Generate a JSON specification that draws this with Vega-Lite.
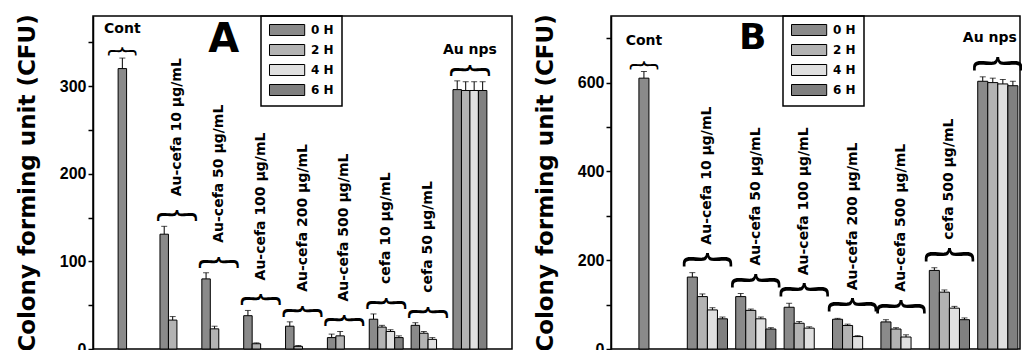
{
  "$schema": "https://vega.github.io/schema/vega-lite/v6.json",
  "background": "white",
  "padding": {"left": 15, "top": 12, "right": 0, "bottom": 0},
  "spacing": 20,
  "datasets": {
    "barsA": [
      {"group": "Cont", "hour": "0 H", "value": 320, "upper": 332},
      {"group": "Au-cefa 10 µg/mL", "hour": "0 H", "value": 131, "upper": 140},
      {"group": "Au-cefa 10 µg/mL", "hour": "2 H", "value": 33, "upper": 37},
      {"group": "Au-cefa 50 µg/mL", "hour": "0 H", "value": 80, "upper": 87},
      {"group": "Au-cefa 50 µg/mL", "hour": "2 H", "value": 23, "upper": 26},
      {"group": "Au-cefa 100 µg/mL", "hour": "0 H", "value": 38, "upper": 44},
      {"group": "Au-cefa 100 µg/mL", "hour": "2 H", "value": 6, "upper": 7},
      {"group": "Au-cefa 200 µg/mL", "hour": "0 H", "value": 26, "upper": 31},
      {"group": "Au-cefa 200 µg/mL", "hour": "2 H", "value": 3, "upper": 4},
      {"group": "Au-cefa 500 µg/mL", "hour": "0 H", "value": 13, "upper": 17},
      {"group": "Au-cefa 500 µg/mL", "hour": "2 H", "value": 15, "upper": 20},
      {"group": "cefa 10 µg/mL", "hour": "0 H", "value": 34, "upper": 40},
      {"group": "cefa 10 µg/mL", "hour": "2 H", "value": 25, "upper": 27},
      {"group": "cefa 10 µg/mL", "hour": "4 H", "value": 20, "upper": 22},
      {"group": "cefa 10 µg/mL", "hour": "6 H", "value": 13, "upper": 15},
      {"group": "cefa 50 µg/mL", "hour": "0 H", "value": 27, "upper": 30},
      {"group": "cefa 50 µg/mL", "hour": "2 H", "value": 18, "upper": 20},
      {"group": "cefa 50 µg/mL", "hour": "4 H", "value": 11, "upper": 13},
      {"group": "Au nps", "hour": "0 H", "value": 296, "upper": 306},
      {"group": "Au nps", "hour": "2 H", "value": 295, "upper": 305},
      {"group": "Au nps", "hour": "4 H", "value": 295, "upper": 305},
      {"group": "Au nps", "hour": "6 H", "value": 295, "upper": 305}
    ],
    "barsB": [
      {"group": "Cont", "hour": "0 H", "value": 610, "upper": 625},
      {"group": "Au-cefa 10 µg/mL", "hour": "0 H", "value": 162, "upper": 172},
      {"group": "Au-cefa 10 µg/mL", "hour": "2 H", "value": 118, "upper": 124},
      {"group": "Au-cefa 10 µg/mL", "hour": "4 H", "value": 88, "upper": 93},
      {"group": "Au-cefa 10 µg/mL", "hour": "6 H", "value": 68, "upper": 72},
      {"group": "Au-cefa 50 µg/mL", "hour": "0 H", "value": 118, "upper": 125},
      {"group": "Au-cefa 50 µg/mL", "hour": "2 H", "value": 87, "upper": 90},
      {"group": "Au-cefa 50 µg/mL", "hour": "4 H", "value": 68, "upper": 72},
      {"group": "Au-cefa 50 µg/mL", "hour": "6 H", "value": 45, "upper": 48},
      {"group": "Au-cefa 100 µg/mL", "hour": "0 H", "value": 94, "upper": 103},
      {"group": "Au-cefa 100 µg/mL", "hour": "2 H", "value": 58, "upper": 62},
      {"group": "Au-cefa 100 µg/mL", "hour": "4 H", "value": 47, "upper": 50},
      {"group": "Au-cefa 200 µg/mL", "hour": "0 H", "value": 67, "upper": 69},
      {"group": "Au-cefa 200 µg/mL", "hour": "2 H", "value": 53, "upper": 56},
      {"group": "Au-cefa 200 µg/mL", "hour": "4 H", "value": 28, "upper": 30},
      {"group": "Au-cefa 500 µg/mL", "hour": "0 H", "value": 61, "upper": 66},
      {"group": "Au-cefa 500 µg/mL", "hour": "2 H", "value": 45, "upper": 48},
      {"group": "Au-cefa 500 µg/mL", "hour": "4 H", "value": 27, "upper": 32},
      {"group": "cefa 500 µg/mL", "hour": "0 H", "value": 177, "upper": 183},
      {"group": "cefa 500 µg/mL", "hour": "2 H", "value": 128, "upper": 133},
      {"group": "cefa 500 µg/mL", "hour": "4 H", "value": 92, "upper": 96},
      {"group": "cefa 500 µg/mL", "hour": "6 H", "value": 66, "upper": 70},
      {"group": "Au nps", "hour": "0 H", "value": 603, "upper": 613},
      {"group": "Au nps", "hour": "2 H", "value": 600, "upper": 610},
      {"group": "Au nps", "hour": "4 H", "value": 597, "upper": 607},
      {"group": "Au nps", "hour": "6 H", "value": 593, "upper": 603}
    ]
  },
  "config": {
    "view": {"stroke": "black", "strokeWidth": 1.5},
    "axisY": {
      "grid": false,
      "domainColor": "black", "domainWidth": 1.5,
      "tickColor": "black", "tickWidth": 1.5, "tickSize": 5,
      "labelFont": "Liberation Sans", "labelFontWeight": "bold", "labelFontSize": 16, "labelColor": "black", "labelPadding": 2,
      "titleFont": "DejaVu Sans", "titleFontWeight": "bold", "titleFontSize": 23, "titleColor": "black", "titlePadding": 20
    },
    "legend": {
      "title": null,
      "strokeColor": "black", "strokeWidth": 1.5, "padding": 8,
      "symbolType": "M-1,-1H5.4V1H-1Z", "symbolSize": 121,
      "symbolStrokeColor": "black", "symbolStrokeWidth": 1, "symbolOpacity": 1,
      "labelFont": "DejaVu Sans", "labelFontWeight": "bold", "labelFontSize": 12, "labelColor": "black",
      "labelOffset": 30, "rowPadding": 4
    },
    "text": {"font": "DejaVu Sans", "fontWeight": "bold", "color": "black"}
  },
  "resolve": {"scale": {"x": "independent", "y": "independent", "color": "independent", "xOffset": "independent"}, "legend": {"color": "independent"}},
  "hconcat": [
    {
      "width": 419, "height": 333,
      "data": {"name": "barsA"},
      "encoding": {
        "x": {"field": "group", "type": "nominal", "axis": null, "sort": null,
              "scale": {"domain": ["Cont", "Au-cefa 10 µg/mL", "Au-cefa 50 µg/mL", "Au-cefa 100 µg/mL", "Au-cefa 200 µg/mL", "Au-cefa 500 µg/mL", "cefa 10 µg/mL", "cefa 50 µg/mL", "Au nps"], "paddingInner": 0.19, "paddingOuter": 0.6}}
      },
      "layer": [
        {
          "mark": {"type": "rule", "color": "black", "strokeWidth": 1},
          "encoding": {
            "xOffset": {"field": "hour", "type": "nominal", "scale": {"domain": ["0 H", "2 H", "4 H", "6 H"], "paddingInner": 0, "paddingOuter": 0}},
            "y": {"field": "value", "type": "quantitative", "scale": {"domain": [0, 380], "nice": false},
                  "axis": {"title": "Colony forming unit (CFU)", "values": [0, 50, 100, 150, 200, 250, 300, 350], "labelExpr": "datum.value % 100 === 0 ? datum.label : ''"}},
            "y2": {"field": "upper"}
          }
        },
        {
          "mark": {"type": "tick", "color": "black", "size": 6, "thickness": 1},
          "encoding": {
            "xOffset": {"field": "hour", "type": "nominal"},
            "y": {"field": "upper", "type": "quantitative"}
          }
        },
        {
          "mark": {"type": "bar", "stroke": "black", "strokeWidth": 1},
          "encoding": {
            "xOffset": {"field": "hour", "type": "nominal"},
            "y": {"field": "value", "type": "quantitative"},
            "color": {"field": "hour", "type": "nominal",
                      "scale": {"domain": ["0 H", "2 H", "4 H", "6 H"], "range": ["#8a8a8a", "#b3b3b3", "#e0e0e0", "#808080"]},
                      "legend": {"orient": "none", "legendX": 168, "legendY": 0}}
          }
        },
        {
          "transform": [{"filter": "datum.group !== 'Cont'"}, {"aggregate": [{"op": "max", "field": "upper", "as": "top"}], "groupby": ["group"]}],
          "mark": {"type": "text", "text": "︷", "font": "Noto Sans CJK SC", "fontWeight": "normal", "fontSize": 42, "baseline": "bottom", "dy": 0},
          "encoding": {"y": {"field": "top", "type": "quantitative"}}
        },
        {
          "transform": [{"filter": "datum.group === 'Cont'"}],
          "mark": {"type": "text", "text": "︷", "font": "Noto Sans CJK SC", "fontWeight": "normal", "fontSize": 30, "baseline": "bottom", "dy": 0},
          "encoding": {"xOffset": {"field": "hour", "type": "nominal"}, "y": {"field": "upper", "type": "quantitative"}}
        },
        {
          "transform": [{"filter": "datum.group !== 'Cont' && datum.group !== 'Au nps'"}, {"aggregate": [{"op": "max", "field": "upper", "as": "top"}], "groupby": ["group"]}],
          "mark": {"type": "text", "angle": 270, "align": "left", "baseline": "middle", "fontSize": 14, "dx": 30},
          "encoding": {"y": {"field": "top", "type": "quantitative"}, "text": {"field": "group"}}
        },
        {
          "transform": [{"filter": "datum.group === 'Cont'"}],
          "mark": {"type": "text", "baseline": "bottom", "fontSize": 14, "dy": -22},
          "encoding": {"xOffset": {"field": "hour", "type": "nominal"}, "y": {"field": "upper", "type": "quantitative"}, "text": {"field": "group"}}
        },
        {
          "transform": [{"filter": "datum.group === 'Au nps'"}, {"aggregate": [{"op": "max", "field": "upper", "as": "top"}], "groupby": ["group"]}],
          "mark": {"type": "text", "baseline": "bottom", "fontSize": 14, "dy": -24},
          "encoding": {"y": {"field": "top", "type": "quantitative"}, "text": {"field": "group"}}
        },
        {
          "data": {"values": [{"letter": "A"}]},
          "mark": {"type": "text", "fontSize": 40, "baseline": "alphabetic", "dx": 5},
          "encoding": {"x": {"datum": "Au-cefa 50 µg/mL"}, "y": {"datum": 339}, "text": {"field": "letter"}}
        }
      ]
    },
    {
      "width": 409, "height": 333,
      "data": {"name": "barsB"},
      "encoding": {
        "x": {"field": "group", "type": "nominal", "axis": null, "sort": null,
              "scale": {"domain": ["Cont", "Au-cefa 10 µg/mL", "Au-cefa 50 µg/mL", "Au-cefa 100 µg/mL", "Au-cefa 200 µg/mL", "Au-cefa 500 µg/mL", "cefa 500 µg/mL", "Au nps"], "paddingInner": 0.17, "paddingOuter": 0.31, "align": 0.93}}
      },
      "layer": [
        {
          "mark": {"type": "rule", "color": "black", "strokeWidth": 1},
          "encoding": {
            "xOffset": {"field": "hour", "type": "nominal", "scale": {"domain": ["0 H", "2 H", "4 H", "6 H"], "paddingInner": 0, "paddingOuter": 0}},
            "y": {"field": "value", "type": "quantitative", "scale": {"domain": [0, 750], "nice": false},
                  "axis": {"title": "Colony forming unit (CFU)", "values": [0, 100, 200, 300, 400, 500, 600, 700], "labelExpr": "datum.value % 200 === 0 ? datum.label : ''"}},
            "y2": {"field": "upper"}
          }
        },
        {
          "mark": {"type": "tick", "color": "black", "size": 6, "thickness": 1},
          "encoding": {
            "xOffset": {"field": "hour", "type": "nominal"},
            "y": {"field": "upper", "type": "quantitative"}
          }
        },
        {
          "mark": {"type": "bar", "stroke": "black", "strokeWidth": 1},
          "encoding": {
            "xOffset": {"field": "hour", "type": "nominal"},
            "y": {"field": "value", "type": "quantitative"},
            "color": {"field": "hour", "type": "nominal",
                      "scale": {"domain": ["0 H", "2 H", "4 H", "6 H"], "range": ["#8a8a8a", "#b3b3b3", "#e0e0e0", "#808080"]},
                      "legend": {"orient": "none", "legendX": 172, "legendY": 0}}
          }
        },
        {
          "transform": [{"filter": "datum.group !== 'Cont'"}, {"aggregate": [{"op": "max", "field": "upper", "as": "top"}], "groupby": ["group"]}],
          "mark": {"type": "text", "text": "︷", "font": "Noto Sans CJK SC", "fontWeight": "normal", "fontSize": 52, "baseline": "bottom", "dy": 0},
          "encoding": {"y": {"field": "top", "type": "quantitative"}}
        },
        {
          "transform": [{"filter": "datum.group === 'Cont'"}],
          "mark": {"type": "text", "text": "︷", "font": "Noto Sans CJK SC", "fontWeight": "normal", "fontSize": 30, "baseline": "bottom", "dy": 0},
          "encoding": {"xOffset": {"field": "hour", "type": "nominal"}, "y": {"field": "upper", "type": "quantitative"}}
        },
        {
          "transform": [{"filter": "datum.group !== 'Cont' && datum.group !== 'Au nps'"}, {"aggregate": [{"op": "max", "field": "upper", "as": "top"}], "groupby": ["group"]}],
          "mark": {"type": "text", "angle": 270, "align": "left", "baseline": "middle", "fontSize": 14, "dx": 28},
          "encoding": {"y": {"field": "top", "type": "quantitative"}, "text": {"field": "group"}}
        },
        {
          "transform": [{"filter": "datum.group === 'Cont'"}],
          "mark": {"type": "text", "baseline": "bottom", "fontSize": 14, "dy": -24},
          "encoding": {"xOffset": {"field": "hour", "type": "nominal"}, "y": {"field": "upper", "type": "quantitative"}, "text": {"field": "group"}}
        },
        {
          "transform": [{"filter": "datum.group === 'Au nps'"}, {"aggregate": [{"op": "max", "field": "upper", "as": "top"}], "groupby": ["group"]}],
          "mark": {"type": "text", "baseline": "bottom", "fontSize": 14, "dy": -32, "dx": -8},
          "encoding": {"y": {"field": "top", "type": "quantitative"}, "text": {"field": "group"}}
        },
        {
          "data": {"values": [{"letter": "B"}]},
          "mark": {"type": "text", "fontSize": 36, "baseline": "alphabetic", "dx": -3},
          "encoding": {"x": {"datum": "Au-cefa 50 µg/mL"}, "y": {"datum": 675}, "text": {"field": "letter"}}
        }
      ]
    }
  ]
}
